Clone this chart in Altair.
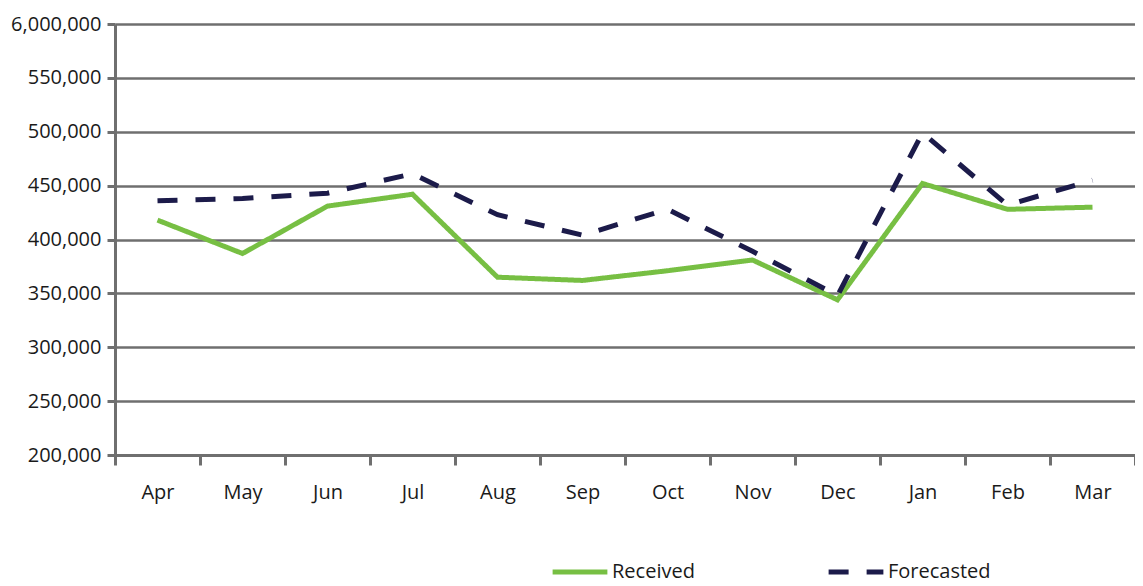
import altair as alt
import pandas as pd

months = ["Apr", "May", "Jun", "Jul", "Aug", "Sep", "Oct", "Nov", "Dec", "Jan", "Feb", "Mar"]
received = [418000, 387000, 431000, 442000, 365000, 362000, 371000, 381000, 344000, 452000, 428000, 430000]
forecasted = [436000, 438000, 443000, 461000, 423000, 404000, 428000, 389000, 348000, 499000, 432000, 455000]
series_names = ["Received", "Forecasted"]
y_ticks = [200000, 250000, 300000, 350000, 400000, 450000, 500000, 550000, 600000]

rows = []
for m, r, f in zip(months, received, forecasted):
    rows.append({"Month": m, "Series": "Received", "Value": r})
    rows.append({"Month": m, "Series": "Forecasted", "Value": f})
df = pd.DataFrame(rows)

FONT = "Open Sans"
GRID = "#6f6f6f"

leg = dict(title=None, orient="none", legendX=435, legendY=518,
           direction="horizontal", symbolType="stroke",
           symbolSize=3000, symbolStrokeWidth=5,
           labelFontSize=20, labelFont=FONT, labelColor="#1a1a1a",
           columnPadding=123, labelOffset=2)

chart = alt.Chart(df).mark_line(strokeWidth=5).encode(
    x=alt.X("Month:N", sort=months, title=None,
            scale=alt.Scale(type="band", paddingInner=0, paddingOuter=0),
            axis=alt.Axis(tickBand="extent", labelAngle=0, tickSize=10, tickWidth=3,
                          tickColor=GRID, domainColor=GRID, domainWidth=3,
                          labelPadding=17, labelFontSize=20, labelFont=FONT,
                          labelColor="#1a1a1a", grid=False)),
    y=alt.Y("Value:Q", title=None,
            scale=alt.Scale(domain=[200000, 600000], nice=False, zero=False),
            axis=alt.Axis(values=y_ticks,
                          labelExpr="datum.value == 600000 ? '6,000,000' : format(datum.value, ',')",
                          tickSize=8, tickWidth=3, tickColor=GRID,
                          domainColor=GRID, domainWidth=3,
                          gridColor=GRID, gridWidth=2.5, grid=True,
                          labelPadding=6, labelFontSize=20, labelFont=FONT,
                          labelColor="#1a1a1a")),
    color=alt.Color("Series:N", sort=series_names,
                    scale=alt.Scale(domain=series_names, range=["#77bf43", "#1c1b4a"]),
                    legend=alt.Legend(**leg)),
    strokeDash=alt.StrokeDash("Series:N", sort=series_names,
                              scale=alt.Scale(domain=series_names, range=[[1, 0], [20, 18]]),
                              legend=alt.Legend(**leg)),
).properties(
    width=1020, height=431,
    autosize=alt.AutoSizeParams(type="none"),
    padding={"left": 107, "top": 16, "right": 0, "bottom": 131},
).configure_view(stroke=None).configure(background="white")

chart.save("out.html", embed_options={"renderer": "svg", "actions": False})
